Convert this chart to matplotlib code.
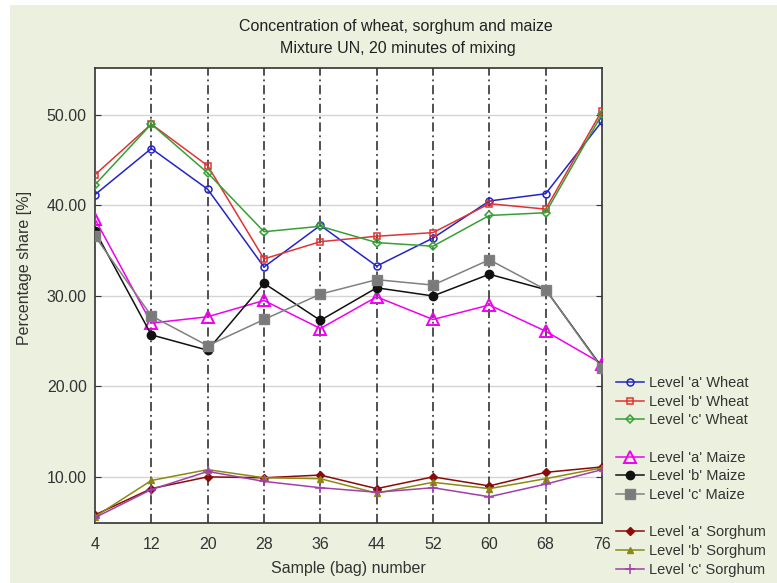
import matplotlib
matplotlib.use("Agg")
import matplotlib.pyplot as plt
from matplotlib.lines import Line2D
from matplotlib.patches import Rectangle

plt.rcParams['font.family'] = ['Liberation Sans', 'DejaVu Sans']

samples = [4, 12, 20, 28, 36, 44, 52, 60, 68, 76]

wheat_a = [41.2, 46.3, 41.8, 33.2, 37.8, 33.3, 36.4, 40.5, 41.3, 49.3]
wheat_b = [43.4, 49.0, 44.4, 34.1, 36.0, 36.6, 37.0, 40.2, 39.6, 50.5]
wheat_c = [42.3, 49.0, 43.6, 37.1, 37.7, 35.9, 35.5, 38.9, 39.2, 50.1]

maize_a = [38.5, 27.0, 27.7, 29.5, 26.4, 29.9, 27.4, 29.0, 26.1, 22.5]
maize_b = [37.2, 25.7, 24.0, 31.4, 27.3, 30.9, 30.0, 32.4, 30.7, 22.1]
maize_c = [36.6, 27.8, 24.5, 27.4, 30.2, 31.8, 31.2, 34.0, 30.7, 22.0]

sorghum_a = [5.8, 8.7, 10.0, 9.9, 10.2, 8.7, 10.0, 9.0, 10.5, 11.1]
sorghum_b = [5.6, 9.6, 10.8, 9.9, 9.8, 8.2, 9.4, 8.7, 9.8, 11.0]
sorghum_c = [5.5, 8.6, 10.6, 9.5, 8.8, 8.3, 8.8, 7.8, 9.2, 10.8]

y_ticks = [10, 20, 30, 40, 50]

title_1 = "Concentration of wheat, sorghum and maize"
title_2 = "Mixture UN, 20 minutes of mixing"
x_label = "Sample (bag) number"
y_label = "Percentage share [%]"

labels = ["Level 'a' Wheat", "Level 'b' Wheat", "Level 'c' Wheat",
          "Level 'a' Maize", "Level 'b' Maize", "Level 'c' Maize",
          "Level 'a' Sorghum", "Level 'b' Sorghum", "Level 'c' Sorghum"]

bg = '#EBF1DE'
fig = plt.figure(figsize=(7.77, 5.83), dpi=100, facecolor='white')
fig.patches.append(Rectangle((10/777, 0), 1, 1 - 5/583, transform=fig.transFigure,
                             facecolor=bg, edgecolor='none', zorder=-10))
ax = fig.add_axes([95/777, 1 - 523/583, 507/777, 455/583])
ax.set_facecolor('white')

series = [
    (wheat_a, dict(color='#2424C8', marker='o', ms=5, mfc='none', mew=1.1, lw=1.1)),
    (wheat_b, dict(color='#E03434', marker='s', ms=5, mfc='none', mew=1.1, lw=1.1)),
    (wheat_c, dict(color='#36A036', marker='D', ms=4, mfc='none', mew=1.1, lw=1.1)),
    (maize_a, dict(color='#F000F0', marker='^', ms=8, mfc='none', mew=1.4, lw=1.1)),
    (maize_b, dict(color='#111111', marker='o', ms=6, mfc='#111111', lw=1.1)),
    (maize_c, dict(color='#808080', marker='s', ms=6.5, mfc='#7a7a7a', lw=1.1)),
    (sorghum_a, dict(color='#8B0A0A', marker='D', ms=4, mfc='#8B0A0A', lw=1.1)),
    (sorghum_b, dict(color='#8A8A10', marker='^', ms=5, mfc='#8A8A10', lw=1.1)),
    (sorghum_c, dict(color='#A040A8', marker='+', ms=7, mew=1.1, lw=1.1)),
]

handles = []
for (vals, kw), lab in zip(series, labels):
    h, = ax.plot(samples, vals, label=lab, zorder=3, **kw)
    handles.append(h)

ax.set_xlim(samples[0], samples[-1])
ax.set_ylim(4.9, 55.2)
ax.set_xticks(samples)
ax.set_xticklabels([str(s) for s in samples])
ax.set_yticks(y_ticks)
ax.set_yticklabels([f"{t:.2f}" for t in y_ticks])
ax.tick_params(axis='y', direction='in', length=4, width=0.8, labelsize=11.5,
               right=True, colors='#333333', labelcolor='#333333', pad=6)
ax.tick_params(axis='x', length=0, labelsize=11.5, labelcolor='#333333', pad=10)

for t in y_ticks:
    ax.axhline(t, color='#d4d4d4', lw=1.0, zorder=1)
for s in samples[1:-1]:
    ax.axvline(s, color='#222222', lw=1.1, ls=(0, (6, 2.5, 1.2, 2.5)), zorder=2)

for sp in ax.spines.values():
    sp.set_color('#333333')
    sp.set_linewidth(1.2)

fig.text(396/777, 1 - 27/583, title_1, ha='center', va='center', fontsize=11.5, color='#222222')
fig.text(398/777, 1 - 48/583, title_2, ha='center', va='center', fontsize=11.5, color='#222222')
fig.text(348/777, 1 - 569/583, x_label, ha='center', va='center', fontsize=11.5, color='#333333')
fig.text(25/777, 1 - 268/583, y_label, ha='center', va='center', rotation=90, fontsize=11.5, color='#333333')

blank = Line2D([], [], color='none')
leg_handles = handles[0:3] + [blank] + handles[3:6] + [blank] + handles[6:9]
leg_labels = labels[0:3] + [''] + labels[3:6] + [''] + labels[6:9]
leg = fig.legend(leg_handles, leg_labels, loc='upper left',
                 bbox_to_anchor=(616/777, 1 - 376/583), frameon=False,
                 fontsize=10.5, handlelength=1.9, handletextpad=0.35,
                 labelspacing=0.32, borderaxespad=0, borderpad=0)
for t in leg.get_texts():
    t.set_color('#333333')
for h in leg.legend_handles:
    if h.get_marker() == '^' and h.get_markersize() > 6:
        h.set_markersize(9)

fig.savefig('out.png', dpi=100, facecolor=fig.get_facecolor())
